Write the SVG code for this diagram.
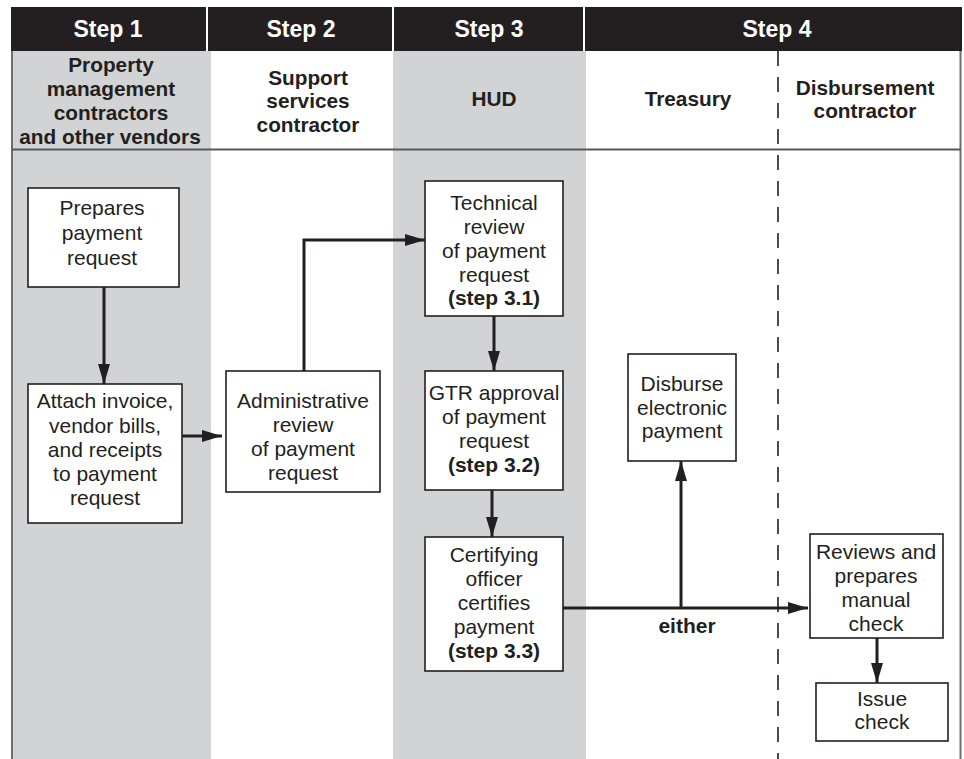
<svg xmlns="http://www.w3.org/2000/svg" width="964" height="759" viewBox="0 0 964 759">
<defs>
<style>
text{font-family:"Liberation Sans",Arial,Helvetica,sans-serif;text-anchor:middle;fill:#231f20}
.hd{font-size:23px;font-weight:bold;fill:#ffffff}
.sh{font-size:20.8px;font-weight:bold}
.bx{font-size:21px}
.b{font-weight:bold}
.box{fill:#ffffff;stroke:#231f20;stroke-width:1.6}
.ln{fill:none;stroke:#231f20;stroke-width:3}
.lane{fill:#d1d3d4}
</style>
<marker id="ah" markerWidth="20" markerHeight="12" refX="20" refY="6" orient="auto" markerUnits="userSpaceOnUse">
<path d="M0,0 L20,6 L0,12 Z" fill="#231f20"/>
</marker>
</defs>
<rect x="0" y="0" width="964" height="759" fill="#ffffff"/>
<g id="lanes">
<rect class="lane" x="12" y="51" width="199" height="708"/>
<rect class="lane" x="393" y="51" width="193" height="708"/>
<line x1="12" y1="51" x2="12" y2="759" stroke="#6d6e71" stroke-width="2"/>
<line x1="960.5" y1="51" x2="960.5" y2="759" stroke="#6d6e71" stroke-width="2"/>
<line x1="12" y1="149.5" x2="961" y2="149.5" stroke="#58595b" stroke-width="2"/>
<line x1="778" y1="51" x2="778" y2="759" stroke="#231f20" stroke-width="1.6" stroke-dasharray="15,11"/>
</g>
<g id="header">
<rect x="11" y="7" width="951" height="44" fill="#231f20"/>
<line x1="207" y1="7" x2="207" y2="51" stroke="#ffffff" stroke-width="2"/>
<line x1="393" y1="7" x2="393" y2="51" stroke="#ffffff" stroke-width="2"/>
<line x1="584" y1="7" x2="584" y2="51" stroke="#ffffff" stroke-width="2"/>
<text class="hd" x="108" y="37">Step 1</text>
<text class="hd" x="301" y="37">Step 2</text>
<text class="hd" x="489" y="37">Step 3</text>
<text class="hd" x="777" y="37">Step 4</text>
</g>
<g id="lane-labels">
<text class="sh" x="111" y="72">Property</text>
<text class="sh" x="111" y="96">management</text>
<text class="sh" x="111" y="120">contractors</text>
<text class="sh" x="110" y="144">and other vendors</text>
<text class="sh" x="308" y="85">Support</text>
<text class="sh" x="308" y="108">services</text>
<text class="sh" x="308" y="132">contractor</text>
<text class="sh" x="494" y="106">HUD</text>
<text class="sh" x="688" y="106">Treasury</text>
<text class="sh" x="865" y="95">Disbursement</text>
<text class="sh" x="865" y="118">contractor</text>
</g>
<g id="connectors">
<line class="ln" x1="104" y1="287" x2="104" y2="384" marker-end="url(#ah)"/>
<line class="ln" x1="182" y1="436" x2="222" y2="436" marker-end="url(#ah)"/>
<polyline class="ln" points="304,371 304,240 425,240" marker-end="url(#ah)"/>
<line class="ln" x1="494" y1="316" x2="494" y2="371" marker-end="url(#ah)"/>
<line class="ln" x1="492" y1="490" x2="492" y2="537" marker-end="url(#ah)"/>
<line class="ln" x1="563" y1="608" x2="808" y2="608" marker-end="url(#ah)"/>
<line class="ln" x1="681" y1="608" x2="681" y2="461" marker-end="url(#ah)"/>
<line class="ln" x1="877" y1="638" x2="877" y2="683" marker-end="url(#ah)"/>
<text class="bx b" x="687" y="633">either</text>
</g>
<g id="n1">
<rect class="box" x="28" y="188" width="151" height="99"/>
<text class="bx" x="102" y="215">Prepares</text>
<text class="bx" x="102" y="240">payment</text>
<text class="bx" x="102" y="265">request</text>
</g>
<g id="n2">
<rect class="box" x="28" y="384" width="154" height="139"/>
<text class="bx" x="105" y="408">Attach invoice,</text>
<text class="bx" x="105" y="433">vendor bills,</text>
<text class="bx" x="105" y="457">and receipts</text>
<text class="bx" x="105" y="481">to payment</text>
<text class="bx" x="105" y="505">request</text>
</g>
<g id="n3">
<rect class="box" x="226" y="371" width="154" height="121"/>
<text class="bx" x="303" y="408">Administrative</text>
<text class="bx" x="303" y="432">review</text>
<text class="bx" x="303" y="456">of payment</text>
<text class="bx" x="303" y="480">request</text>
</g>
<g id="n4">
<rect class="box" x="425" y="181" width="138" height="135"/>
<text class="bx" x="494" y="210">Technical</text>
<text class="bx" x="494" y="234">review</text>
<text class="bx" x="494" y="258">of payment</text>
<text class="bx" x="494" y="282">request</text>
<text class="bx b" x="494" y="305">(step 3.1)</text>
</g>
<g id="n5">
<rect class="box" x="425" y="371" width="138" height="119"/>
<text class="bx" x="494" y="400">GTR approval</text>
<text class="bx" x="494" y="424">of payment</text>
<text class="bx" x="494" y="448">request</text>
<text class="bx b" x="494" y="472">(step 3.2)</text>
</g>
<g id="n6">
<rect class="box" x="425" y="537" width="138" height="134"/>
<text class="bx" x="494" y="562">Certifying</text>
<text class="bx" x="494" y="586">officer</text>
<text class="bx" x="494" y="610">certifies</text>
<text class="bx" x="494" y="634">payment</text>
<text class="bx b" x="494" y="658">(step 3.3)</text>
</g>
<g id="n7">
<rect class="box" x="628" y="354" width="108" height="107"/>
<text class="bx" x="682" y="391">Disburse</text>
<text class="bx" x="682" y="415">electronic</text>
<text class="bx" x="682" y="438">payment</text>
</g>
<g id="n8">
<rect class="box" x="810" y="534" width="133" height="104"/>
<text class="bx" x="876" y="559">Reviews and</text>
<text class="bx" x="876" y="583">prepares</text>
<text class="bx" x="876" y="607">manual</text>
<text class="bx" x="876" y="631">check</text>
</g>
<g id="n9">
<rect class="box" x="816" y="683" width="132" height="58"/>
<text class="bx" x="882" y="706">Issue</text>
<text class="bx" x="882" y="729">check</text>
</g>
</svg>
